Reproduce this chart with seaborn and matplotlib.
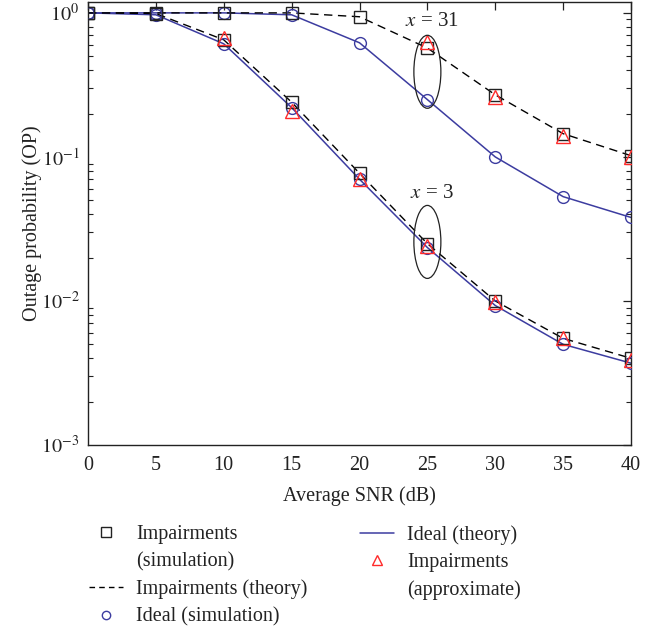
import numpy as np
import pandas as pd
import matplotlib
matplotlib.use("Agg")
import matplotlib.pyplot as plt
from matplotlib.patches import Ellipse
from matplotlib.lines import Line2D
import seaborn as sns

# ---- data ----
snr = [0, 5, 10, 15, 20, 25, 30, 35, 40]
imp_x31 = [1.0, 1.0, 1.0, 1.0, 0.94, 0.57, 0.27, 0.145, 0.102]
ideal_x31 = [1.0, 1.0, 1.0, 0.97, 0.62, 0.25, 0.10, 0.053, 0.038]
imp_x3 = [1.0, 0.99, 0.65, 0.24, 0.077, 0.025, 0.0100, 0.0055, 0.0040]
ideal_x3 = [1.0, 0.97, 0.61, 0.22, 0.070, 0.0235, 0.0093, 0.0050, 0.0037]
approx_snr_x31 = [25, 30, 35, 40]
approx_x31 = [0.63, 0.26, 0.14, 0.10]
approx_snr_x3 = [10, 15, 20, 25, 30, 35, 40]
approx_x3 = [0.67, 0.21, 0.070, 0.024, 0.0099, 0.0055, 0.0039]

labels_col1 = ["Impairments", "(simulation)", "Impairments (theory)", "Ideal (simulation)"]
labels_col2 = ["Ideal (theory)", "Impairments", "(approximate)"]

BLUE = "#3c3ca0"
RED = "#ff2a2a"
SQ = "#222222"
TXT = "#222222"

sns.set_theme(style="white")
plt.rcParams["font.family"] = ["Liberation Serif", "DejaVu Serif"]
plt.rcParams["mathtext.fontset"] = "stix"

fig = plt.figure(figsize=(6.64, 6.32), dpi=100)
ax = fig.add_axes([88 / 664, 1 - 445 / 632, (631 - 88) / 664, (445 - 2) / 632])

ms = 8.5
for imp, ideal in [(imp_x31, ideal_x31), (imp_x3, ideal_x3)]:
    sns.lineplot(x=snr, y=ideal, ax=ax, color=BLUE, lw=1.1, zorder=2)
    sns.lineplot(x=snr, y=imp, ax=ax, color="black", lw=1.0, linestyle=(0, (6, 4)), zorder=2)
    sns.lineplot(x=snr, y=ideal, ax=ax, marker="o", linestyle="", ms=ms, mfc="none",
                 mec=BLUE, mew=1.0, zorder=3)
    sns.lineplot(x=snr, y=imp, ax=ax, marker="s", linestyle="", ms=ms, mfc="none",
                 mec=SQ, mew=1.0, zorder=3)
for xs, ys in [(approx_snr_x31, approx_x31), (approx_snr_x3, approx_x3)]:
    sns.lineplot(x=xs, y=ys, ax=ax, marker="^", linestyle="", ms=ms + 1, mfc="none",
                 mec=RED, mew=1.0, zorder=4)

ax.set_yscale("log")
ymin, ymax = 1e-3, 1.19
ax.set_ylim(ymin, ymax)
ax.set_xlim(0, 40)
ax.set_xticks(snr)
ax.set_xticklabels([str(v) for v in snr])
ax.set_yticks([1e-3, 1e-2, 1e-1, 1e0])
ax.set_yticklabels([r"$10^{-3}$", r"$10^{-2}$", r"$10^{-1}$", r"$10^{0}$"])
ax.tick_params(axis="both", which="both", direction="in", top=True, right=True,
               labelsize=14.5, colors=TXT)
ax.tick_params(axis="both", which="major", length=6, width=0.9)
ax.tick_params(axis="x", which="major", pad=8)
ax.tick_params(axis="y", which="major", pad=6)
ax.tick_params(axis="y", which="minor", length=3.5, width=0.8, left=True, right=True)
ax.minorticks_on()
ax.xaxis.set_minor_locator(matplotlib.ticker.NullLocator())
for s in ax.spines.values():
    s.set_color(TXT)
    s.set_linewidth(1.0)

ax.set_xlabel("Average SNR (dB)", fontsize=14.5, color=TXT, labelpad=8)
ax.set_ylabel("Outage probability (OP)", fontsize=14.5, color=TXT, labelpad=-1)

# ellipses (in axes fraction)
def yfrac(v):
    return (np.log10(v) - np.log10(ymin)) / (np.log10(ymax) - np.log10(ymin))

for c in [0.39, 0.0257]:
    e = Ellipse((25 / 40, yfrac(c)), width=27 / 543, height=73 / 443,
                transform=ax.transAxes, fill=False, ec=TXT, lw=0.9, zorder=5)
    ax.add_patch(e)

ax.text(25.3, 0.87, r"$x$ = 31", fontsize=15, ha="center", va="center", color=TXT)
ax.text(25.3, 0.056, r"$x$ = 3", fontsize=15, ha="center", va="center", color=TXT)

blank = Line2D([], [], linestyle="", marker="")
handles_col1 = [
    Line2D([], [], marker="s", linestyle="", ms=6.5, mfc="none", mec=SQ, mew=1.0),
    blank,
    Line2D([], [], color="black", lw=1.0, linestyle=(0, (4, 3))),
    Line2D([], [], marker="o", linestyle="", ms=6, mfc="none", mec=BLUE, mew=1.0),
]
handles_col2 = [
    Line2D([], [], color=BLUE, lw=1.1),
    Line2D([], [], marker="^", linestyle="", ms=7.5, mfc="none", mec=RED, mew=1.0),
    blank,
]
common = dict(loc="upper left", frameon=False, fontsize=14.5, handlelength=1.7,
              handletextpad=0.65, labelspacing=0.4, borderpad=0, borderaxespad=0,
              labelcolor=TXT)
for hs, ls, x0 in [(handles_col1, labels_col1, 89 / 664), (handles_col2, labels_col2, 360 / 664)]:
    fig.legend(hs, ls, bbox_to_anchor=(x0, 0.169), **common)

fig.savefig("out.png", dpi=100)
